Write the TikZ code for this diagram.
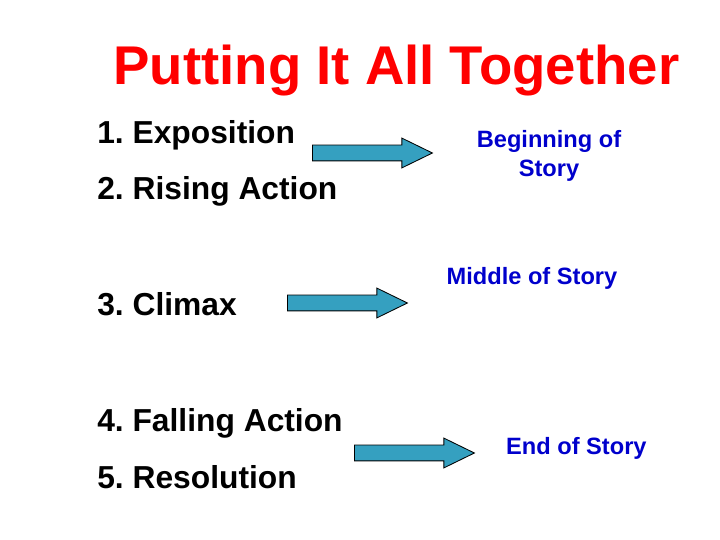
\documentclass[tikz,border=0pt]{standalone}
\usepackage{fontspec}
\setmainfont{Liberation Sans}
\usetikzlibrary{shapes.arrows}
\definecolor{titlered}{HTML}{FF0000}
\definecolor{storyblue}{HTML}{0000CC}
\definecolor{arrowteal}{HTML}{35A0C0}

\begin{document}
\frenchspacing
\begin{tikzpicture}[
    item/.style={anchor=base west,inner sep=0pt,font=\fontsize{22.6}{26}\selectfont\bfseries},
    part/.style={anchor=base,inner sep=0pt,align=center,storyblue,font=\fontsize{16.8}{20.5}\selectfont\bfseries},
    blockarrow/.style={single arrow,draw=black,line width=0.6pt,fill=arrowteal,inner xsep=0pt,
      inner ysep=0.1875cm,minimum height=3cm,single arrow head extend=0.175cm,
      single arrow tip angle=52,anchor=tail}]
    \useasboundingbox (0,0) rectangle (18,13.5);
    \node[anchor=base,inner sep=0pt,titlered,font=\fontsize{38.8}{44}\selectfont\bfseries] (title) at (9.91,11.375) {Putting It All Together};
    % plot stages
    \node[item] (expo) at (2.425,9.917) {1. Exposition};
    \node[item] (rising) at (2.425,8.5) {2. Rising Action};
    \node[item] (climax) at (2.425,5.61) {3. Climax};
    \node[item] (falling) at (2.425,2.715) {4. Falling Action};
    \node[item] (resol) at (2.425,1.285) {5. Resolution};
    % arrows
    \node[blockarrow] (arrbeg) at (7.8,9.675) {};
    \node[blockarrow] (arrmid) at (7.175,5.925) {};
    \node[blockarrow] (arrend) at (8.85,2.175) {};
    % parts of the story
    \node[part] (beginning) at (13.725,9.09) {Beginning of\\Story};
    \node[part] (middle) at (13.3,6.375) {Middle of Story};
    \node[part] (ending) at (14.41,2.15) {End of Story};
\end{tikzpicture}
\end{document}
